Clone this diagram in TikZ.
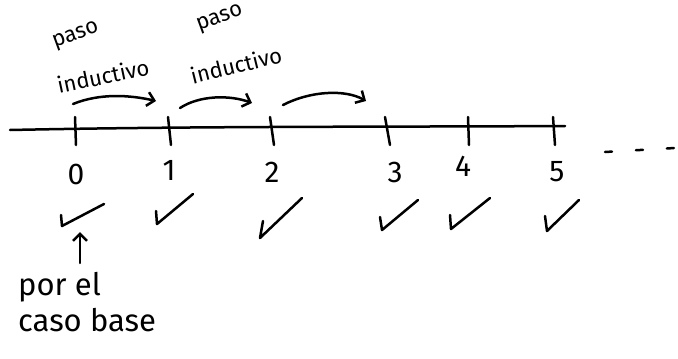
\documentclass[tikz,border=0pt]{standalone}
\usepackage{fontspec}
\setmainfont{Fira Sans}
\usetikzlibrary{arrows.meta}
\begin{document}
\begin{tikzpicture}[x=1pt,y=-1pt,
  pen/.style={line width=2.5pt,line cap=round,line join=round},
  tip/.style={-{Straight Barb[length=7pt,width=14pt,line width=2.5pt]}},
  num/.style={font=\fontsize{30}{32}\selectfont},
  lbl/.style={font=\fontsize{22}{24}\selectfont,inner sep=0pt},
  big/.style={font=\fontsize{31}{36}\selectfont}]
\useasboundingbox (0,0) rectangle (678,359);
% axis
\coordinate (axL) at (10,130);
\coordinate (axR) at (565,126);
\draw[pen] (axL) .. controls (200,126) and (400,127) .. (axR);
% ticks
\foreach \n/\x/\dx in {0/75/1,1/168/3,2/270/4,3/385/5,4/468/1,5/553/2}{
  \coordinate (t\n) at (\x,117);
  \coordinate (b\n) at (\x+\dx,145);
  \draw[pen] (t\n) -- (b\n);
}
% numbers
\foreach \n/\x/\y in {0/76/174,1/169/170,2/272/172,3/395/172,4/463/166,5/557/172}{
  \node[num] (n\n) at (\x,\y) {\n};
}
% dots
\coordinate (d1) at (605,152);
\coordinate (d2) at (675,148);
\draw[pen,dash pattern=on 7pt off 24pt] (d1) -- (d2);
% check marks
\foreach \n/\x/\y/\sx/\sy/\ex/\ey in {0/62/226/-1/-11/42/-22,1/157/224/-1/-13/36/-30,2/260/238/3/-17/42/-40,3/382/230/-2/-13/36/-30,4/451/229/-1/-14/39/-31,5/547/231/-2/-15/32/-31}{
  \coordinate (c\n) at (\x,\y);
  \draw[pen] (c\n) ++(\sx,\sy) -- (c\n) -- ++(\ex,\ey);
}
% caso base
\node[big,anchor=north west,align=left,inner sep=0pt] (base) at (18,272) {por el\\caso base};
\coordinate (up) at (80,232);
\coordinate (upS) at (80,263);
\draw[pen,tip] (upS) -- (up);
% inductive steps
\node[lbl,rotate=20] (p1) at (76,36) {paso};
\node[lbl,rotate=12] (i1) at (103,76) {inductivo};
\node[lbl,rotate=20] (p2) at (220,19) {paso};
\node[lbl,rotate=14] (i2) at (236,65) {inductivo};
\coordinate (a1s) at (73,104); \coordinate (a1e) at (156,101);
\coordinate (a2s) at (180,108); \coordinate (a2e) at (252,103);
\coordinate (a3s) at (283,105); \coordinate (a3e) at (366,101);
\draw[pen,tip] (a1s) .. controls (100,93) and (130,95) .. (a1e);
\draw[pen,tip] (a2s) .. controls (200,95) and (230,95) .. (a2e);
\draw[pen,tip] (a3s) .. controls (310,91) and (345,89) .. (a3e);
\end{tikzpicture}
\end{document}
